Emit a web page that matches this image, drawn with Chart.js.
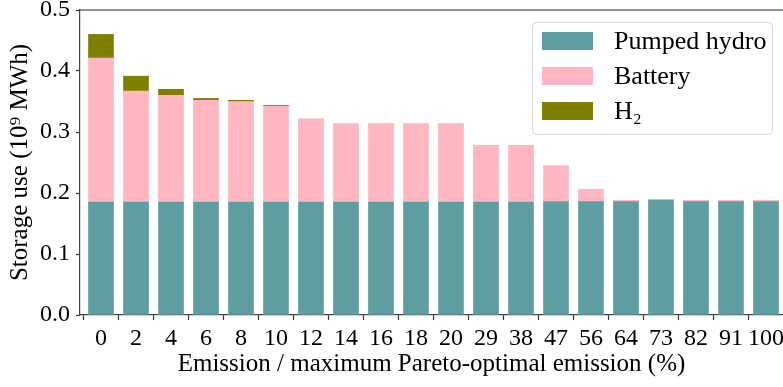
<!DOCTYPE html>
<html><head><meta charset="utf-8">
<script src="https://cdn.jsdelivr.net/npm/chart.js@4.4.0/dist/chart.umd.min.js"></script>
<style>html,body{margin:0;padding:0;background:#fff;overflow:hidden}#wrap{width:783px;height:387px}</style>
</head><body><div id="wrap"><canvas id="c" width="783" height="387"></canvas></div>
<script>
const categories = ['0','2','4','6','8','10','12','14','16','18','20','29','38','47','56','64','73','82','91','100'];
const pumpedHydro = [0.185,0.185,0.185,0.185,0.185,0.185,0.185,0.185,0.185,0.185,0.185,0.185,0.185,0.186,0.186,0.186,0.188,0.186,0.186,0.186];
const battery = [0.236,0.182,0.175,0.167,0.165,0.157,0.136,0.128,0.128,0.128,0.128,0.093,0.093,0.058,0.020,0.002,0.001,0.002,0.002,0.002];
const hydrogen = [0.039,0.0245,0.010,0.003,0.002,0.0015,0,0,0,0,0,0,0,0,0,0,0,0,0,0];
const yTicks = [0.0,0.1,0.2,0.3,0.4,0.5];
const seriesNames = ['Pumped hydro','Battery','H\u2082'];
const seriesColors = ['#5F9EA0','#FFB6C1','#808000'];
const yTitle = 'Storage use (10\u2079 MWh)';
const xTitle = 'Emission / maximum Pareto-optimal emission (%)';

const FONT = 'Liberation Serif';
const toPts = arr => arr.map((v,i)=>({x:i,y:v}));

const decor = {
  id:'decor',
  afterDraw(chart){
    const {ctx, chartArea:a} = chart;
    ctx.save();
    ctx.strokeStyle='#222'; ctx.lineWidth=1.2;
    ctx.beginPath(); ctx.moveTo(a.left, a.top); ctx.lineTo(a.right, a.top); ctx.stroke();
    // legend box
    const bx=532.5, by=22.5, bw=240, bh=112, r=4;
    ctx.beginPath();
    ctx.moveTo(bx+r,by); ctx.lineTo(bx+bw-r,by); ctx.arcTo(bx+bw,by,bx+bw,by+r,r);
    ctx.lineTo(bx+bw,by+bh-r); ctx.arcTo(bx+bw,by+bh,bx+bw-r,by+bh,r);
    ctx.lineTo(bx+r,by+bh); ctx.arcTo(bx,by+bh,bx,by+bh-r,r);
    ctx.lineTo(bx,by+r); ctx.arcTo(bx,by,bx+r,by,r); ctx.closePath();
    ctx.fillStyle='rgba(255,255,255,0.8)'; ctx.fill();
    ctx.strokeStyle='#d6d6d6'; ctx.lineWidth=1; ctx.stroke();
    ctx.font = '26px "'+FONT+'"';
    ctx.textBaseline='middle'; ctx.textAlign='left';
    chart.data.datasets.forEach((ds,i)=>{
      const cy = 41 + i*35;
      ctx.fillStyle = ds.backgroundColor;
      ctx.fillRect(542, cy-9, 51, 18);
      ctx.fillStyle = '#000';
      ctx.fillText(ds.label, 614, cy+1);
    });
    ctx.restore();
  }
};

new Chart(document.getElementById('c'), {
  type:'bar',
  data:{
    datasets:[
      {label:seriesNames[0], data:toPts(pumpedHydro), backgroundColor:seriesColors[0]},
      {label:seriesNames[1], data:toPts(battery), backgroundColor:seriesColors[1]},
      {label:seriesNames[2], data:toPts(hydrogen), backgroundColor:seriesColors[2]}
    ]
  },
  options:{
    responsive:false, animation:false, devicePixelRatio:1,
    datasets:{bar:{barThickness:25, borderWidth:0}},
    layout:{padding:{top:10,right:0,left:0,bottom:0}},
    plugins:{legend:{display:false}, tooltip:{enabled:false}},
    scales:{
      x:{
        type:'linear', min:-0.6, max:19.486, stacked:true, offset:false,
        afterBuildTicks:s=>{ s.ticks = categories.map((_,i)=>({value:i})); },
        ticks:{callback:(v)=>categories[Math.round(v)], font:{family:FONT,size:24}, color:'#000', padding:4, maxRotation:0, autoSkip:false},
        grid:{display:true, drawOnChartArea:false, drawTicks:true, tickLength:5, color:'#333', tickWidth:1.2},
        border:{display:true, color:'#444', width:1.2},
        title:{display:true, text:xTitle, font:{family:FONT,size:25}, color:'#000', padding:{top:0,bottom:8}},
        afterFit:s=>{ s.height = 72; s.paddingLeft=0; s.paddingRight=0; }
      },
      y:{
        type:'linear', min:0, max:0.5, stacked:true,
        afterBuildTicks:s=>{ s.ticks = yTicks.map(v=>({value:v})); },
        ticks:{callback:(v)=>Number(v).toFixed(1), font:{family:FONT,size:24}, color:'#000', padding:6},
        grid:{display:true, drawOnChartArea:false, drawTicks:true, tickLength:4, color:'#333', tickWidth:1.2},
        border:{display:true, color:'#444', width:1.2},
        title:{display:true, text:yTitle, font:{family:FONT,size:25}, color:'#000', padding:{top:5,bottom:0}},
        afterFit:s=>{ s.width = 80; s.paddingTop=0; s.paddingBottom=0; }
      }
    }
  },
  plugins:[decor]
});
</script></body></html>
